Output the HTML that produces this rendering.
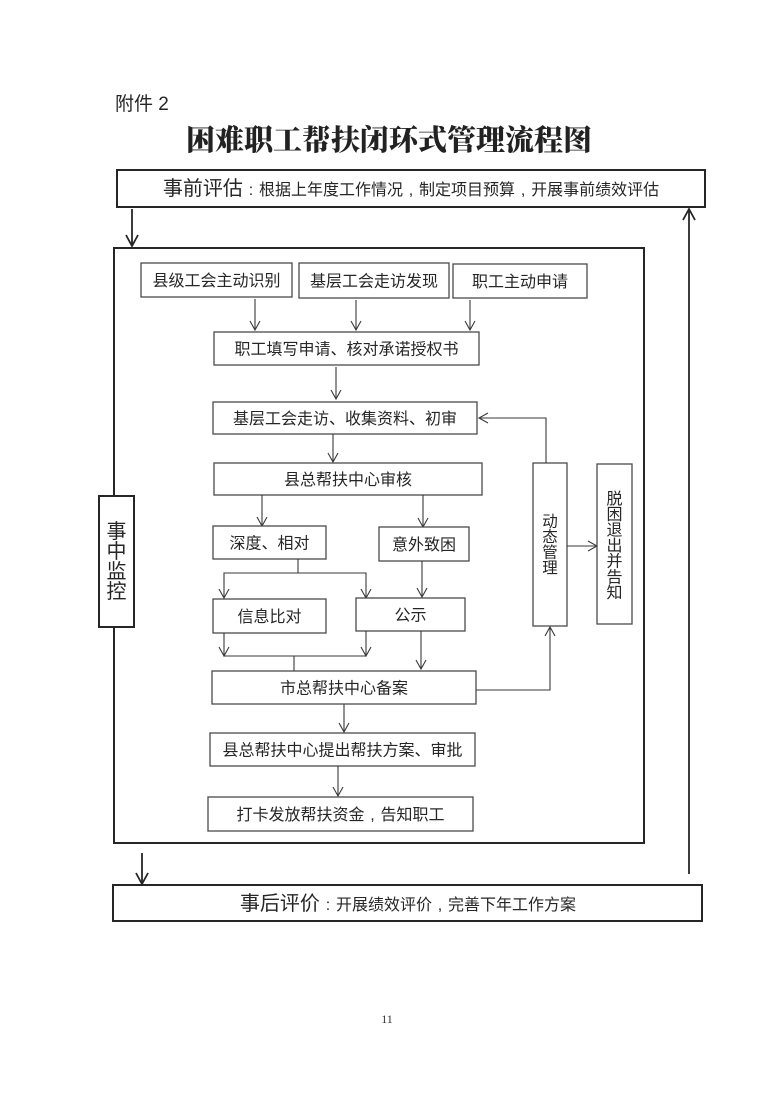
<!DOCTYPE html>
<html lang="zh">
<head>
<meta charset="utf-8">
<style>
  html,body{margin:0;padding:0;background:#fff;}
  body{width:770px;height:1099px;overflow:hidden;}
  svg{display:block;}
  .s{font-family:"Liberation Sans","Noto Sans CJK SC",sans-serif;fill:#262626;}
  .t{font-family:"Liberation Serif","Noto Serif CJK SC",serif;fill:#222;font-weight:900;}
  .b{fill:#fff;stroke:#4a4a4a;stroke-width:1.3;}
  .B{fill:none;stroke:#262626;stroke-width:2;}
  .l{fill:none;stroke:#3a3a3a;stroke-width:1.1;}
  .L{fill:none;stroke:#262626;stroke-width:1.8;}
</style>
</head>
<body>
<svg width="770" height="1099" viewBox="0 0 770 1099" xmlns="http://www.w3.org/2000/svg">
  <!-- header -->
  <text class="s" x="115" y="110" font-size="19">附件 2</text>
  <text class="t" x="389" y="150" font-size="29" text-anchor="middle">困难职工帮扶闭环式管理流程图</text>

  <!-- top box -->
  <rect class="B" x="117" y="170" width="588" height="37"/>
  <text class="s" x="411" y="195" text-anchor="middle"><tspan font-size="20">事前评估</tspan><tspan font-size="16" dx="5.8">:</tspan><tspan font-size="16" dx="5.8">根据上年度工作情况</tspan><tspan font-size="16" dx="5.8">,</tspan><tspan font-size="16" dx="5.8">制定项目预算</tspan><tspan font-size="16" dx="5.8">,</tspan><tspan font-size="16" dx="5.8">开展事前绩效评估</tspan></text>

  <!-- top-left down arrow -->
  <line class="L" x1="132" y1="209" x2="132" y2="245"/>
  <polyline class="L" points="126,235 132,246 138,235"/>

  <!-- right up arrow -->
  <line class="L" x1="689" y1="874" x2="689" y2="210"/>
  <polyline class="L" points="683,220 689,209 695,220"/>

  <!-- inner big box -->
  <rect class="B" x="114" y="248" width="530" height="595"/>

  <!-- 事中监控 -->
  <rect x="99" y="496" width="35" height="131" fill="#fff" stroke="#262626" stroke-width="2"/>
  <g class="s" font-size="20" text-anchor="middle">
    <text x="116.5" y="538">事</text>
    <text x="116.5" y="558">中</text>
    <text x="116.5" y="578">监</text>
    <text x="116.5" y="598">控</text>
  </g>

  <!-- row 1 -->
  <rect class="b" x="141" y="263" width="151" height="34"/>
  <rect class="b" x="299" y="263" width="150" height="35"/>
  <rect class="b" x="453" y="264" width="134" height="34"/>
  <g class="s" font-size="16" text-anchor="middle">
    <text x="216.5" y="286">县级工会主动识别</text>
    <text x="374" y="286.5">基层工会走访发现</text>
    <text x="520" y="287">职工主动申请</text>
  </g>

  <!-- arrows row1 -> 职工填写 -->
  <line class="l" x1="255" y1="299" x2="255" y2="330"/>
  <polyline class="l" points="250,321 255,330 260,321"/>
  <line class="l" x1="356" y1="300" x2="356" y2="330"/>
  <polyline class="l" points="351,321 356,330 361,321"/>
  <line class="l" x1="470" y1="300" x2="470" y2="330"/>
  <polyline class="l" points="465,321 470,330 475,321"/>

  <rect class="b" x="214" y="332" width="265" height="33"/>
  <text class="s" x="346.5" y="354.5" font-size="16" text-anchor="middle">职工填写申请、核对承诺授权书</text>

  <line class="l" x1="336" y1="367" x2="336" y2="399"/>
  <polyline class="l" points="331,390 336,399 341,390"/>

  <rect class="b" x="213" y="402" width="264" height="32"/>
  <text class="s" x="345" y="424" font-size="16" text-anchor="middle">基层工会走访、收集资料、初审</text>

  <line class="l" x1="333" y1="434" x2="333" y2="462"/>
  <polyline class="l" points="328,453 333,462 338,453"/>

  <rect class="b" x="214" y="463" width="268" height="32"/>
  <text class="s" x="348" y="485" font-size="16" text-anchor="middle">县总帮扶中心审核</text>

  <!-- split -->
  <line class="l" x1="262" y1="495" x2="262" y2="526"/>
  <polyline class="l" points="257,517 262,526 267,517"/>
  <line class="l" x1="423" y1="495" x2="423" y2="527"/>
  <polyline class="l" points="418,518 423,527 428,518"/>

  <rect class="b" x="213" y="526" width="113" height="33"/>
  <text class="s" x="269.5" y="548.5" font-size="16" text-anchor="middle">深度、相对</text>
  <rect class="b" x="379" y="527" width="90" height="34"/>
  <text class="s" x="424" y="550" font-size="16" text-anchor="middle">意外致困</text>

  <polyline class="l" points="298,559 298,573"/>
  <polyline class="l" points="224,598 224,573 366,573 366,598"/>
  <polyline class="l" points="219,589 224,598 229,589"/>
  <polyline class="l" points="361,589 366,598 371,589"/>
  <line class="l" x1="422" y1="561" x2="422" y2="597"/>
  <polyline class="l" points="417,588 422,597 427,588"/>

  <rect class="b" x="213" y="599" width="113" height="34"/>
  <text class="s" x="269.5" y="622" font-size="16" text-anchor="middle">信息比对</text>
  <rect class="b" x="356" y="598" width="109" height="33"/>
  <text class="s" x="410.5" y="620.5" font-size="16" text-anchor="middle">公示</text>

  <polyline class="l" points="224,633 224,656 366,656 366,631"/>
  <polyline class="l" points="219,647 224,656 229,647"/>
  <polyline class="l" points="361,647 366,656 371,647"/>
  <line class="l" x1="294" y1="656" x2="294" y2="671"/>
  <line class="l" x1="421" y1="631" x2="421" y2="669"/>
  <polyline class="l" points="416,660 421,669 426,660"/>

  <rect class="b" x="212" y="671" width="264" height="33"/>
  <text class="s" x="344" y="693.5" font-size="16" text-anchor="middle">市总帮扶中心备案</text>

  <!-- to 动态管理 -->
  <polyline class="l" points="476,690 550,690 550,627"/>
  <polyline class="l" points="545,636 550,627 555,636"/>

  <rect class="b" x="533" y="463" width="34" height="163"/>
  <g class="s" font-size="15.5" text-anchor="middle">
    <text x="550" y="526.5">动</text>
    <text x="550" y="542">态</text>
    <text x="550" y="557.5">管</text>
    <text x="550" y="573">理</text>
  </g>

  <line class="l" x1="567" y1="546" x2="597" y2="546"/>
  <polyline class="l" points="588,541 597,546 588,551"/>

  <rect class="b" x="597" y="464" width="35" height="160"/>
  <g class="s" font-size="16" text-anchor="middle">
    <text x="614.5" y="504">脱</text>
    <text x="614.5" y="519.7">困</text>
    <text x="614.5" y="535.3">退</text>
    <text x="614.5" y="551">出</text>
    <text x="614.5" y="566.7">并</text>
    <text x="614.5" y="582.3">告</text>
    <text x="614.5" y="598">知</text>
  </g>

  <!-- feedback -->
  <polyline class="l" points="546,463 546,418 479,418"/>
  <polyline class="l" points="488,413 479,418 488,423"/>

  <line class="l" x1="344" y1="704" x2="344" y2="732"/>
  <polyline class="l" points="339,723 344,732 349,723"/>

  <rect class="b" x="210" y="733" width="265" height="33"/>
  <text class="s" x="342.5" y="755.5" font-size="16" text-anchor="middle">县总帮扶中心提出帮扶方案、审批</text>

  <line class="l" x1="338" y1="766" x2="338" y2="796"/>
  <polyline class="l" points="333,787 338,796 343,787"/>

  <rect class="b" x="208" y="797" width="265" height="34"/>
  <text class="s" x="340.5" y="820" font-size="16" text-anchor="middle">打卡发放帮扶资金<tspan dx="5.8">,</tspan><tspan dx="5.8">告知职工</tspan></text>

  <!-- bottom arrow -->
  <line class="L" x1="142" y1="853" x2="142" y2="883"/>
  <polyline class="L" points="136,873 142,884 148,873"/>

  <!-- bottom box -->
  <rect class="B" x="113" y="885" width="589" height="36"/>
  <text class="s" x="408" y="910" text-anchor="middle"><tspan font-size="20">事后评价</tspan><tspan font-size="16" dx="5.8">:</tspan><tspan font-size="16" dx="5.8">开展绩效评价</tspan><tspan font-size="16" dx="5.8">,</tspan><tspan font-size="16" dx="5.8">完善下年工作方案</tspan></text>

  <!-- page number -->
  <text x="387" y="1023" font-size="12" font-family="Liberation Serif, serif" fill="#333" text-anchor="middle">11</text>
</svg>
</body>
</html>
